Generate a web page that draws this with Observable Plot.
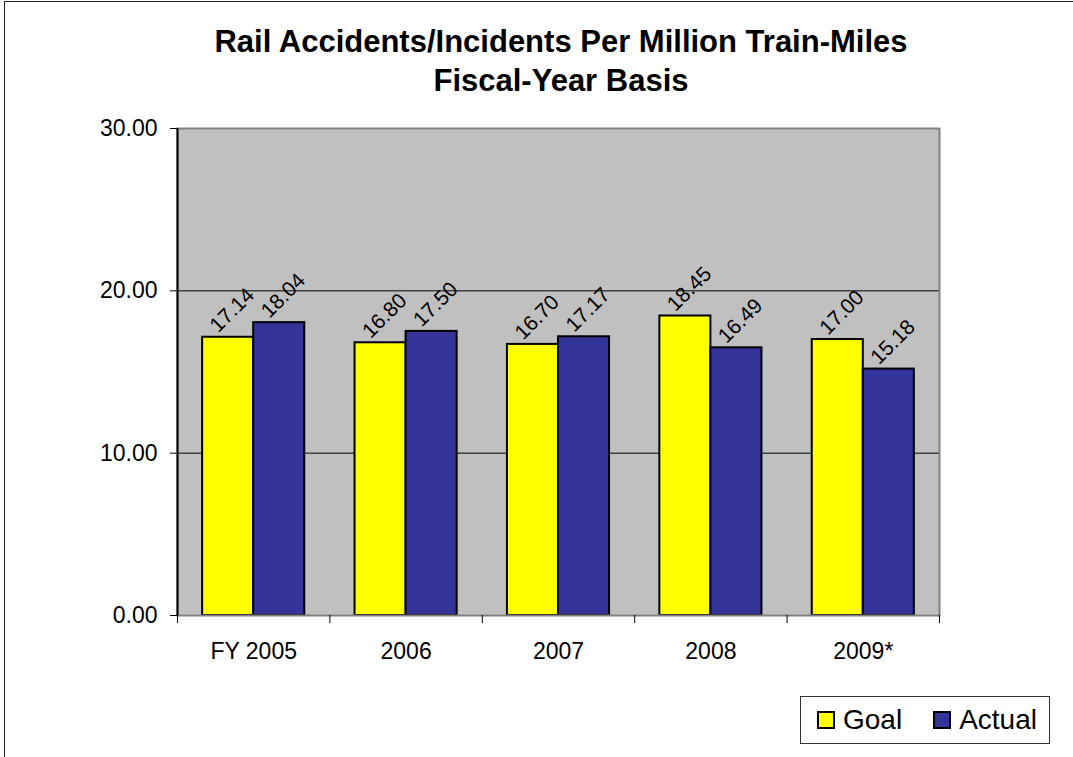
<!DOCTYPE html>
<html>
<head>
<meta charset="utf-8">
<script src="https://cdn.jsdelivr.net/npm/d3@7"></script>
<script src="https://cdn.jsdelivr.net/npm/@observablehq/plot@0.6"></script>
<style>
html, body { margin: 0; padding: 0; overflow: hidden; background: #fff; }
body { width: 1073px; height: 757px; position: relative; font-family: "Liberation Sans", Arial, sans-serif; color: #000; }
#frame { position: absolute; left: 4px; top: 1px; width: 1200px; height: 900px; border-left: 1px solid #222; border-top: 1px solid #222; }
#title { position: absolute; left: 61px; width: 1000px; top: 22px; text-align: center; font-weight: bold; font-size: 31px; line-height: 39px; }
#chart { position: absolute; left: 0; top: 100px; }
#legend { position: absolute; left: 800px; top: 696px; width: 250px; height: 48px; box-sizing: border-box; border: 1px solid #333; background: #fff; display: flex; align-items: center; padding-left: 16px; font-size: 28px; line-height: 1; }
.sw { width: 18px; height: 18px; box-sizing: border-box; border: 2px solid #000; margin-right: 8px; flex: none; }
.item { display: flex; align-items: center; margin-right: 31px; }
</style>
</head>
<body>
<div id="frame"></div>
<div id="title">Rail Accidents/Incidents Per Million Train-Miles<br>Fiscal-Year Basis</div>
<div id="chart"></div>
<div id="legend"></div>
<script>
const categories = ["FY 2005", "2006", "2007", "2008", "2009*"];
const series = ["Goal", "Actual"];
const goal = [17.14, 16.80, 16.70, 18.45, 17.00];
const actual = [18.04, 17.50, 17.17, 16.49, 15.18];
const yTicks = [0, 10, 20, 30];
const gridValues = [10, 20];
const colors = ["#FFFF00", "#333399"];

const values = {Goal: goal, Actual: actual};
const rows = categories.flatMap((c, i) => series.map((s, k) => ({cat: c, i, k, series: s, value: values[s][i]})));

// group layout in category-step units
const gap = 0.165, barW = 0.335;
const x1 = d => d.i + gap + d.k * barW;
const x2 = d => d.i + gap + (d.k + 1) * barW;
const xc = d => d.i + gap + (d.k + 0.5) * barW;

const chart = Plot.plot({
  width: 1073,
  height: 580,
  marginTop: 28,
  marginBottom: 65,
  marginLeft: 177,
  marginRight: 134,
  style: {fontFamily: "'Liberation Sans', Arial, sans-serif", color: "#000", background: "transparent", overflow: "visible"},
  x: {domain: [0, categories.length], label: null},
  y: {domain: [0, 30], label: null},
  color: {domain: series, range: colors},
  marks: [
    Plot.frame({fill: "#C0C0C0"}),
    Plot.ruleY(gridValues, {stroke: "#000", strokeWidth: 1}),
    Plot.rect(rows, {x1, x2, y1: () => 0, y2: "value", fill: "series", stroke: "#000", strokeWidth: 2}),
    Plot.frame({stroke: "#808080", strokeWidth: 2}),
    Plot.ruleX([0], {stroke: "#000", strokeWidth: 2}),
    Plot.text(rows, {x: xc, y: "value", text: d => d.value.toFixed(2), rotate: -45, dx: 4, dy: -27, fontSize: 21, fill: "#000", textAnchor: "middle", lineAnchor: "middle"}),
    Plot.axisY({ticks: yTicks, tickFormat: d3.format(".2f"), tickSize: 7, tickPadding: 13, fontSize: 23, stroke: "#000"}),
    Plot.axisX({ticks: d3.range(categories.length + 1), tickFormat: () => "", tickSize: 8, stroke: "#000"}),
    Plot.axisX({ticks: d3.range(categories.length).map(i => i + 0.5), tickFormat: t => categories[Math.floor(t)], tickSize: 0, tickPadding: 27, fontSize: 23})
  ]
});
document.getElementById("chart").append(chart);

const legend = document.getElementById("legend");
series.forEach((s, k) => {
  const item = document.createElement("div");
  item.className = "item";
  const sw = document.createElement("div");
  sw.className = "sw";
  sw.style.background = colors[k];
  const label = document.createElement("span");
  label.textContent = s;
  item.append(sw, label);
  if (k === series.length - 1) item.style.marginRight = "0";
  legend.append(item);
});
</script>
</body>
</html>
